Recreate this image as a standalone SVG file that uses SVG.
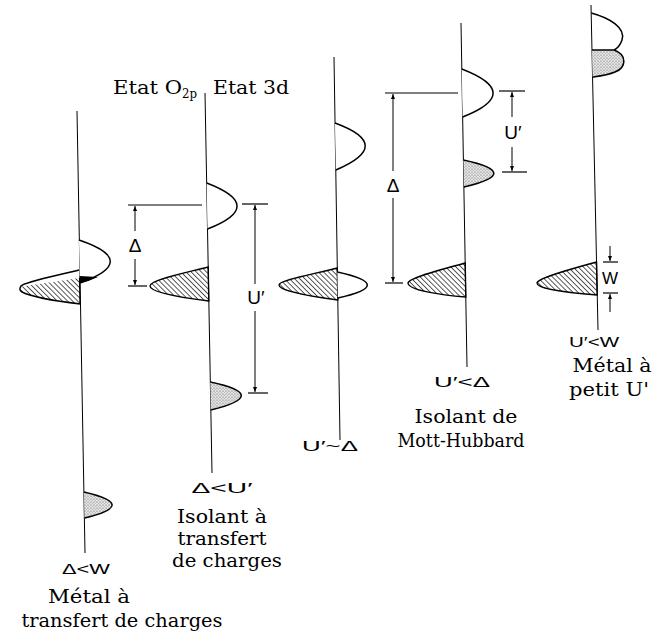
<svg xmlns="http://www.w3.org/2000/svg" width="654" height="639" viewBox="0 0 654 639">
<defs>
<pattern id="hatch" width="3.6" height="3.6" patternUnits="userSpaceOnUse" patternTransform="rotate(-45)">
<line x1="0" y1="0" x2="0" y2="3.6" stroke="#000" stroke-width="1.3"/>
</pattern>
<pattern id="stip" width="3" height="3" patternUnits="userSpaceOnUse">
<rect width="3" height="3" fill="#e4e4e4"/>
<circle cx="1" cy="1" r="0.6" fill="#555"/>
<circle cx="2.5" cy="2.5" r="0.45" fill="#888"/>
</pattern>
<marker id="ah" viewBox="0 0 10 10" refX="10" refY="5" markerWidth="5" markerHeight="7" markerUnits="userSpaceOnUse" orient="auto">
<path d="M0,1 L10,5 L0,9 Z" fill="#000"/>
</marker>
</defs>
<style>
.ax{stroke:#000;stroke-width:1;fill:none}
.band{stroke:#000;stroke-width:1.5;fill:#fff}
.h{stroke:#000;stroke-width:1.4;fill:url(#hatch)}
.s{stroke:#000;stroke-width:1.5;fill:url(#stip)}
.tick{stroke:#000;stroke-width:1.2}
.arr{stroke:#000;stroke-width:1;marker-end:url(#ah)}
.serif{font-family:"DejaVu Serif","Liberation Serif",serif;font-size:19px;fill:#000}
.sans{font-family:"Liberation Sans","DejaVu Sans",sans-serif;font-size:15px;fill:#000}
.sym{font-family:"Liberation Sans","DejaVu Sans",sans-serif;font-size:19px;fill:#000}
</style>
<rect width="654" height="639" fill="#fff"/>

<g id="col1">
<line class="ax" x1="77" y1="111" x2="85" y2="553"/>
<path class="band" d="M79,240 Q141,261 80,283"/>
<path d="M79.5,276 L98,277 Q90,281 80,283 Z" fill="#000"/>
<path d="M79.5,278 L22,286.5 C19,288 20,290 21,291 C30,297 55,301 80.5,304 Z" fill="url(#hatch)" stroke="none"/>
<path d="M79,270 C55,276 24,282 21,286 C19,289 20,291 22,292 C32,297 55,301 80.5,304" fill="none" stroke="#000" stroke-width="1.4"/>
<line x1="79.5" y1="278" x2="80" y2="304" stroke="#000" stroke-width="1.2"/>
<path class="s" d="M84,492 Q140,505 84.5,518"/>
<text class="sans" x="86" y="574" text-anchor="middle" textLength="48" lengthAdjust="spacingAndGlyphs">Δ&lt;W</text>
<text class="serif" x="89" y="603" text-anchor="middle" textLength="82" lengthAdjust="spacingAndGlyphs">Métal à</text>
<text class="serif" x="122" y="627" text-anchor="middle" textLength="201" lengthAdjust="spacingAndGlyphs">transfert de charges</text>
</g>

<g id="col2">
<line class="ax" x1="205" y1="93" x2="212" y2="473"/>
<path class="band" d="M206.7,183 Q267,206 207.5,229"/>
<path class="h" d="M208.2,267 C185,273 150,280 150,286 C150,293 185,298 208.8,301 Z"/>
<path class="s" d="M210.3,382 Q272,395 210.8,410"/>
<text class="serif" x="113" y="94" textLength="69" lengthAdjust="spacingAndGlyphs">Etat O</text>
<text class="serif" x="182" y="98" style="font-size:12px" textLength="15" lengthAdjust="spacingAndGlyphs">2p</text>
<text class="serif" x="213" y="94" textLength="76" lengthAdjust="spacingAndGlyphs">Etat 3d</text>
<text class="sans" x="222" y="493" text-anchor="middle" textLength="61" lengthAdjust="spacingAndGlyphs">Δ&lt;U′</text>
<text class="serif" x="222" y="523" text-anchor="middle" textLength="90" lengthAdjust="spacingAndGlyphs">Isolant à</text>
<text class="serif" x="222" y="545" text-anchor="middle" textLength="89" lengthAdjust="spacingAndGlyphs">transfert</text>
<text class="serif" x="227" y="567" text-anchor="middle" textLength="110" lengthAdjust="spacingAndGlyphs">de charges</text>
</g>

<g id="col3">
<line class="ax" x1="334" y1="57" x2="340" y2="440"/>
<path class="band" d="M335,123 Q395,145 335.8,170"/>
<path class="h" d="M337.3,268 C315,274 279,280 279,285 C279,291 315,297 337.8,300 Z"/>
<path class="band" d="M337.4,272 Q397,285 337.8,298"/>
<text class="sans" x="330" y="451" text-anchor="middle" textLength="56" lengthAdjust="spacingAndGlyphs">U′~Δ</text>
</g>

<g id="col4">
<line class="ax" x1="461" y1="23" x2="467" y2="367"/>
<path class="band" d="M461.8,69 Q524,93 462.6,117"/>
<path class="s" d="M463.4,160 Q524,173 463.9,187"/>
<path class="h" d="M465.2,263 C440,270 408,278 408,283 C408,290 440,295 465.8,297 Z"/>
<text class="sans" x="462" y="387" text-anchor="middle" textLength="56" lengthAdjust="spacingAndGlyphs">U′&lt;Δ</text>
<text class="serif" x="466" y="423" text-anchor="middle" textLength="103" lengthAdjust="spacingAndGlyphs">Isolant de</text>
<text class="serif" x="461" y="447" text-anchor="middle" textLength="127" lengthAdjust="spacingAndGlyphs">Mott-Hubbard</text>
</g>

<g id="col5">
<line class="ax" x1="591" y1="5" x2="598" y2="330"/>
<path class="band" d="M591.2,13 C610,18 626,28 622,40 C620,46 616,49 614,50"/>
<path class="s" d="M592,50 L614,50 C628,55 626,68 615,72 C608,75 600,76 592.6,77"/>
<path class="h" d="M596.5,262 C575,268 537,278 537,283 C537,289 570,293 597.2,295 Z"/>
<text class="sans" x="610" y="284" text-anchor="middle" style="font-size:17px">W</text>
<text class="sans" x="594" y="347" text-anchor="middle" textLength="50" lengthAdjust="spacingAndGlyphs">U′&lt;W</text>
<text class="serif" x="612" y="372" text-anchor="middle" textLength="79" lengthAdjust="spacingAndGlyphs">Métal à</text>
<text class="serif" x="609" y="396" text-anchor="middle" textLength="80" lengthAdjust="spacingAndGlyphs">petit U'</text>
</g>

<g id="connectors">
<line class="tick" x1="128" y1="205" x2="202" y2="205"/>
<line class="tick" x1="128" y1="286" x2="147" y2="286"/>
<line class="arr" x1="135" y1="231" x2="135" y2="206"/>
<line class="arr" x1="135" y1="259" x2="135" y2="285"/>
<text class="sym" x="135" y="252" text-anchor="middle">Δ</text>

<line class="tick" x1="242" y1="204" x2="268" y2="204"/>
<line class="tick" x1="248" y1="393" x2="268" y2="393"/>
<line class="arr" x1="255" y1="284" x2="255" y2="205"/>
<line class="arr" x1="255" y1="311" x2="255" y2="392"/>
<text class="sym" x="256" y="304" text-anchor="middle">U′</text>

<line class="tick" x1="385" y1="93" x2="458" y2="93"/>
<line class="tick" x1="385" y1="283" x2="403" y2="283"/>
<line class="arr" x1="393" y1="171" x2="393" y2="94"/>
<line class="arr" x1="393" y1="198" x2="393" y2="282"/>
<text class="sym" x="393" y="192" text-anchor="middle">Δ</text>

<line class="tick" x1="499" y1="91" x2="525" y2="91"/>
<line class="tick" x1="502" y1="172" x2="527" y2="172"/>
<line class="arr" x1="512" y1="117" x2="512" y2="92"/>
<line class="arr" x1="512" y1="147" x2="512" y2="171"/>
<text class="sym" x="513" y="139" text-anchor="middle">U′</text>

<line class="tick" x1="603" y1="262" x2="618" y2="262"/>
<line class="tick" x1="603" y1="293" x2="618" y2="293"/>
<line class="arr" x1="610" y1="246" x2="610" y2="261"/>
<line class="arr" x1="610" y1="312" x2="610" y2="294"/>
</g>
</svg>
